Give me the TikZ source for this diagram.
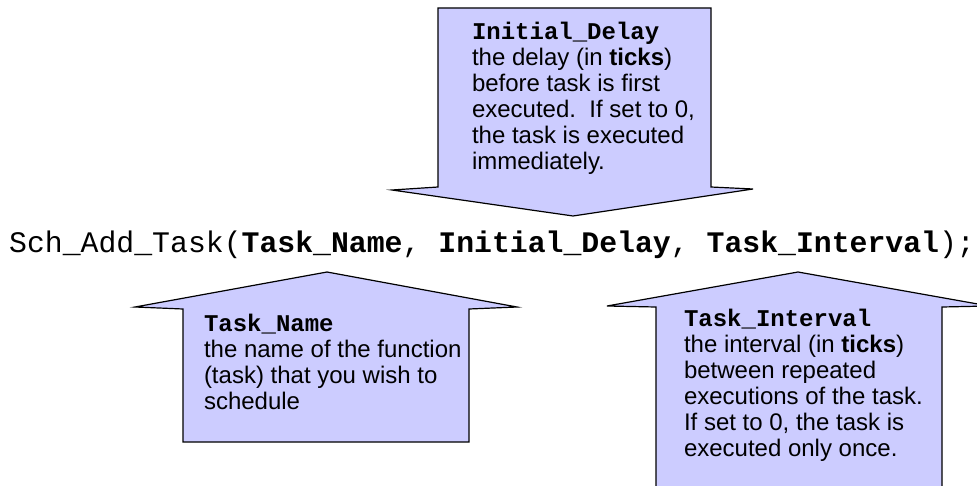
\documentclass[tikz,border=0pt]{standalone}
\usepackage{fontspec}
\setmainfont{Liberation Sans}
\setmonofont{Liberation Mono}
\definecolor{arrowfill}{HTML}{CCCCFF}
\begin{document}
\begin{tikzpicture}[x=0.75pt,y=-0.75pt,
  callout/.style={fill=arrowfill,draw=black,line width=0.9pt,line join=miter},
  txt/.style={anchor=base west,inner sep=0pt,outer sep=0pt,font=\fontsize{18pt}{19.5pt}\selectfont},
  codeline/.style={anchor=base west,inner sep=0pt,outer sep=0pt,font=\fontsize{22.35pt}{26pt}\selectfont\ttfamily}]
\useasboundingbox (0,0) rectangle (977,485);
\begin{scope}
\clip (0,0) rectangle (977,485);
% top arrow pointing down
\draw[callout] (438,8) -- (711,8) -- (711,187) -- (753,189) -- (573,216) -- (392,190) -- (438,187) -- cycle;
% bottom-left arrow pointing up
\draw[callout] (183,442) -- (183,309) -- (135,307) -- (327,272) -- (517,307) -- (469,309) -- (469,442) -- cycle;
% bottom-right arrow pointing up (clipped)
\draw[callout] (656,500) -- (656,307) -- (607,306) -- (798,272) -- (989,306) -- (942,307) -- (942,500) -- cycle;
\end{scope}

\node[txt] (delay) at (472,39.5) {\begin{tabular}[t]{@{}l@{}}%
{\ttfamily\bfseries Initial\_Delay}\\
the delay (in \textbf{ticks})\\
before task is first\\
executed.\ \ If set to 0,\\
the task is executed\\
immediately.\end{tabular}};

\node[txt] (name) at (204,331.7) {\begin{tabular}[t]{@{}l@{}}%
{\ttfamily\bfseries Task\_Name}\\
the name of the function\\
(task) that you wish to\\
schedule\end{tabular}};

\node[txt] (interval) at (684,326.7) {\begin{tabular}[t]{@{}l@{}}%
{\ttfamily\bfseries Task\_Interval}\\
the interval (in \textbf{ticks})\\
between repeated\\
executions of the task.\\
If set to 0, the task is\\
executed only once.\end{tabular}};

\node[codeline] (call) at (9.2,252) {Sch\_Add\_Task(\textbf{Task\_Name}, \textbf{Initial\_Delay}, \textbf{Task\_Interval});};
\end{tikzpicture}
\end{document}
